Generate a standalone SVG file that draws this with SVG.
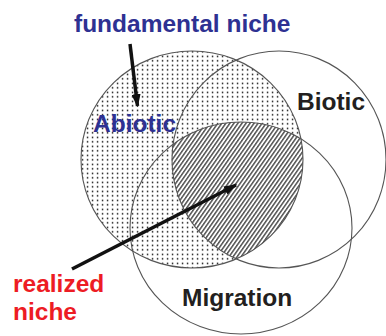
<svg xmlns="http://www.w3.org/2000/svg" width="386" height="336" viewBox="0 0 386 336">
<style>
.circ{fill:none;stroke:#555;stroke-width:1.1}
.lbl{font-family:"Liberation Sans",Arial,sans-serif;font-weight:bold;font-size:24.5px}
.blue{fill:#2e3192}
.black{fill:#231f20}
.red{fill:#ed1c24}
.arr{stroke:#111;stroke-width:3.5;fill:none}
</style>
<defs>
<pattern id="dots" patternUnits="userSpaceOnUse" width="5" height="4.5">
<rect x="1.8" y="1.6" width="1.5" height="1.5" fill="#111"/>
</pattern>
<pattern id="hatch" patternUnits="userSpaceOnUse" width="3.3" height="10" patternTransform="rotate(35)">
<line x1="1.6" y1="0" x2="1.6" y2="10" stroke="#111" stroke-width="1.1"/>
</pattern>
<clipPath id="clipB"><ellipse cx="279" cy="159.5" rx="107" ry="108.5"/></clipPath>
<clipPath id="clipM" clip-path="url(#clipB)"><ellipse cx="241" cy="228" rx="111" ry="106"/></clipPath>
<marker id="ah" markerWidth="3.8" markerHeight="2.6" refX="3.4" refY="1.3" orient="auto" markerUnits="strokeWidth">
<path d="M0,0 L3.8,1.3 L0,2.6 z" fill="#111"/>
</marker>
</defs>
<rect width="386" height="336" fill="#fff"/>
<g id="abiotic">
<ellipse cx="192" cy="159.5" rx="111" ry="108.5" fill="url(#dots)"/>
<g clip-path="url(#clipM)">
<ellipse cx="192" cy="159.5" rx="111" ry="108.5" fill="#fff"/>
<ellipse cx="192" cy="159.5" rx="111" ry="108.5" fill="url(#hatch)"/>
</g>
<ellipse class="circ" cx="192" cy="159.5" rx="111" ry="108.5"/>
<text class="lbl blue" x="93" y="132">Abiotic</text>
</g>
<g id="biotic">
<ellipse class="circ" cx="279" cy="159.5" rx="107" ry="108.5"/>
<text class="lbl black" x="297" y="110">Biotic</text>
</g>
<g id="migration">
<ellipse class="circ" cx="241" cy="228" rx="111" ry="106"/>
<text class="lbl black" x="182" y="306">Migration</text>
</g>
<g id="fundamental">
<text class="lbl blue" x="74" y="32">fundamental niche</text>
</g>
<g id="realized">
<text class="lbl red" x="13" y="292">realized</text>
<text class="lbl red" x="13" y="320">niche</text>
</g>
<g id="connectors">
<line class="arr" x1="130" y1="44" x2="137.5" y2="106" marker-end="url(#ah)"/>
<line class="arr" x1="72" y1="269" x2="236" y2="185" marker-end="url(#ah)"/>
</g>
</svg>
